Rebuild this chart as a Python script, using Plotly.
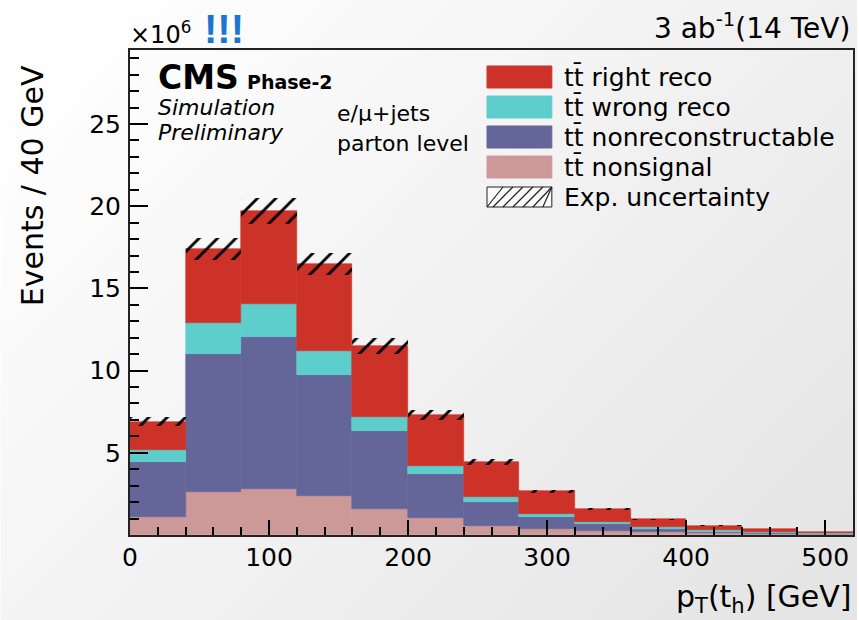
import base64
import plotly.graph_objects as go

# pT(t_h) binning, 40 GeV bins
bin_edges = [0, 40, 80, 120, 160, 200, 240, 280, 320, 360, 400, 440, 480, 520]

# Per-process yields in units of 10^6 events (stacked bottom -> top)
tt_nonsignal = [1.10, 2.62, 2.82, 2.35, 1.59, 1.04, 0.55, 0.35, 0.25, 0.18, 0.10, 0.06, 0.04]
tt_nonreco   = [3.37, 8.38, 9.23, 7.38, 4.76, 2.66, 1.48, 0.77, 0.41, 0.18, 0.10, 0.08, 0.03]
tt_wrong     = [0.71, 1.90, 2.02, 1.47, 0.85, 0.47, 0.30, 0.18, 0.12, 0.11, 0.08, 0.05, 0.03]
tt_right     = [1.72, 4.50, 5.63, 5.30, 4.30, 3.13, 2.12, 1.35, 0.82, 0.48, 0.28, 0.16, 0.10]
exp_unc      = [0.28, 0.66, 0.78, 0.66, 0.47, 0.29, 0.18, 0.10, 0.06, 0.04, 0.02, 0.014, 0.008]

y_ticks = [5, 10, 15, 20, 25]
x_ticks = [0, 100, 200, 300, 400, 500]

FONT = "DejaVu Sans"
C_RIGHT = "rgb(204,50,40)"
C_WRONG = "rgb(93,206,203)"
C_NONRECO = "rgb(100,101,153)"
C_NONSIG = "rgb(204,152,152)"

W, H = 859, 620
L, R, T, B = 130, 4, 50, 85
PW, PH = W - L - R, H - T - B


def px(x):
    return (x - L) / PW


def py(y):
    return (H - B - y) / PH


centers = [(a + b) / 2 for a, b in zip(bin_edges[:-1], bin_edges[1:])]
widths = [b - a for a, b in zip(bin_edges[:-1], bin_edges[1:])]

fig = go.Figure()

stack = [
    ("tt̄ nonsignal", tt_nonsignal, C_NONSIG),
    ("tt̄ nonreconstructable", tt_nonreco, C_NONRECO),
    ("tt̄ wrong reco", tt_wrong, C_WRONG),
    ("tt̄ right reco", tt_right, C_RIGHT),
]
base = [0.0] * len(centers)
for name, vals, col in stack:
    fig.add_trace(go.Bar(
        x=centers, y=vals, base=list(base), width=widths, name=name,
        marker=dict(color=col, line=dict(color=col, width=0.6)),
        showlegend=False,
    ))
    base = [b + v for b, v in zip(base, vals)]

total = base
fig.add_trace(go.Bar(
    x=centers, y=[2 * u for u in exp_unc], base=[t - u for t, u in zip(total, exp_unc)],
    width=widths, name="Exp. uncertainty", showlegend=False,
    marker=dict(color="rgba(0,0,0,0)", line=dict(width=0),
                pattern=dict(shape="/", fgcolor="black", fgopacity=1,
                             bgcolor="rgba(0,0,0,0)",
                             size=13, solidity=0.22, fillmode="overlay")),
))

# soft slide-style background
svg = (
    '<svg xmlns="http://www.w3.org/2000/svg" width="859" height="620" preserveAspectRatio="none">'
    '<defs><linearGradient id="g" x1="0" y1="0.15" x2="1" y2="0.85">'
    '<stop offset="0" stop-color="#ffffff"/><stop offset="1" stop-color="#e5e5e5"/>'
    '</linearGradient></defs><rect width="859" height="620" fill="url(#g)"/></svg>'
)
bg_src = "data:image/svg+xml;base64," + base64.b64encode(svg.encode()).decode()

ann = []


def text(x, y, s, size, xanchor="left", color="black", family=FONT, angle=0, yanchor="middle"):
    ann.append(dict(x=px(x), y=py(y), xref="paper", yref="paper", text=s, showarrow=False,
                    xanchor=xanchor, yanchor=yanchor, textangle=angle,
                    font=dict(family=family, size=size, color=color)))


text(128, 33, "×10<sup>6</sup>", 24)
text(202, 29, "<b>!!!</b>", 40, color="rgb(28,118,208)", family="Liberation Sans")
text(854, 27, "3 ab<sup>-1</sup>(14 TeV)", 28, xanchor="right")
text(156, 77, "<b>CMS</b>", 33)
text(245, 82, "<b>Phase-2</b>", 19)
text(156, 107, "<i>Simulation</i>", 22)
text(156, 133, "<i>Preliminary</i>", 22)
text(336, 113, "e/μ+jets", 22)
text(336, 143, "parton level", 22)
text(32, 186, "Events / 40 GeV", 30, xanchor="center", angle=-90)
text(856, 598, "p<sub>T</sub>(t<sub>h</sub>) [GeV]", 30, xanchor="right")

shapes = []
legend_rows = [
    ("tt̄ right reco", C_RIGHT, 77),
    ("tt̄ wrong reco", C_WRONG, 107),
    ("tt̄ nonreconstructable", C_NONRECO, 137),
    ("tt̄ nonsignal", C_NONSIG, 167),
]
for label, col, yc in legend_rows:
    shapes.append(dict(type="rect", xref="paper", yref="paper",
                       x0=px(488), x1=px(553), y0=py(yc - 11), y1=py(yc + 11),
                       fillcolor=col, line=dict(color=col, width=1)))
    text(563, yc, label, 25)

# hatched swatch for the uncertainty entry
yc = 197
shapes.append(dict(type="rect", xref="paper", yref="paper",
                   x0=px(488), x1=px(553), y0=py(yc - 10), y1=py(yc + 10),
                   fillcolor="rgba(255,255,255,0.6)", line=dict(color="#222", width=1)))
for k in range(7):
    xa = max(488, 488 + k * 10 - 4)
    xb = min(553, 488 + k * 10 + 16)
    shapes.append(dict(type="line", xref="paper", yref="paper",
                       x0=px(xa), y0=py(yc + 10), x1=px(xb), y1=py(yc - 10),
                       line=dict(color="#222", width=1.2)))
text(563, yc, "Exp. uncertainty", 25)

fig.update_layout(
    width=W, height=H, autosize=False,
    margin=dict(l=L, r=R, t=T, b=B, pad=0),
    paper_bgcolor="rgba(0,0,0,0)", plot_bgcolor="rgba(0,0,0,0)",
    barmode="overlay", bargap=0, showlegend=False,
    font=dict(family=FONT, color="black"),
    annotations=ann, shapes=shapes,
    images=[dict(source=bg_src, xref="paper", yref="paper",
                 x=-L / PW, y=1 + T / PH, sizex=W / PW, sizey=H / PH,
                 xanchor="left", yanchor="top", sizing="stretch", layer="below")],
    xaxis=dict(range=[0, 520], tickvals=x_ticks, ticks="inside", ticklen=15, tickwidth=1.5,
               tickcolor="black", showgrid=False, zeroline=False,
               showline=True, linecolor="#222", linewidth=2, mirror=True,
               tickfont=dict(size=25, family=FONT), ticklabelstandoff=-1,
               minor=dict(dtick=20, tick0=0, ticks="inside", ticklen=8, tickwidth=1.5,
                          tickcolor="black", showgrid=False)),
    yaxis=dict(range=[0, 29.5], tickvals=y_ticks, ticks="inside", ticklen=18, tickwidth=1.5,
               tickcolor="black", showgrid=False, zeroline=False,
               showline=True, linecolor="#222", linewidth=2, mirror=True,
               tickfont=dict(size=25, family=FONT), ticklabelstandoff=2,
               minor=dict(dtick=1, tick0=0, ticks="inside", ticklen=9, tickwidth=1.5,
                          tickcolor="black", showgrid=False)),
)

fig.write_html("out.html")
